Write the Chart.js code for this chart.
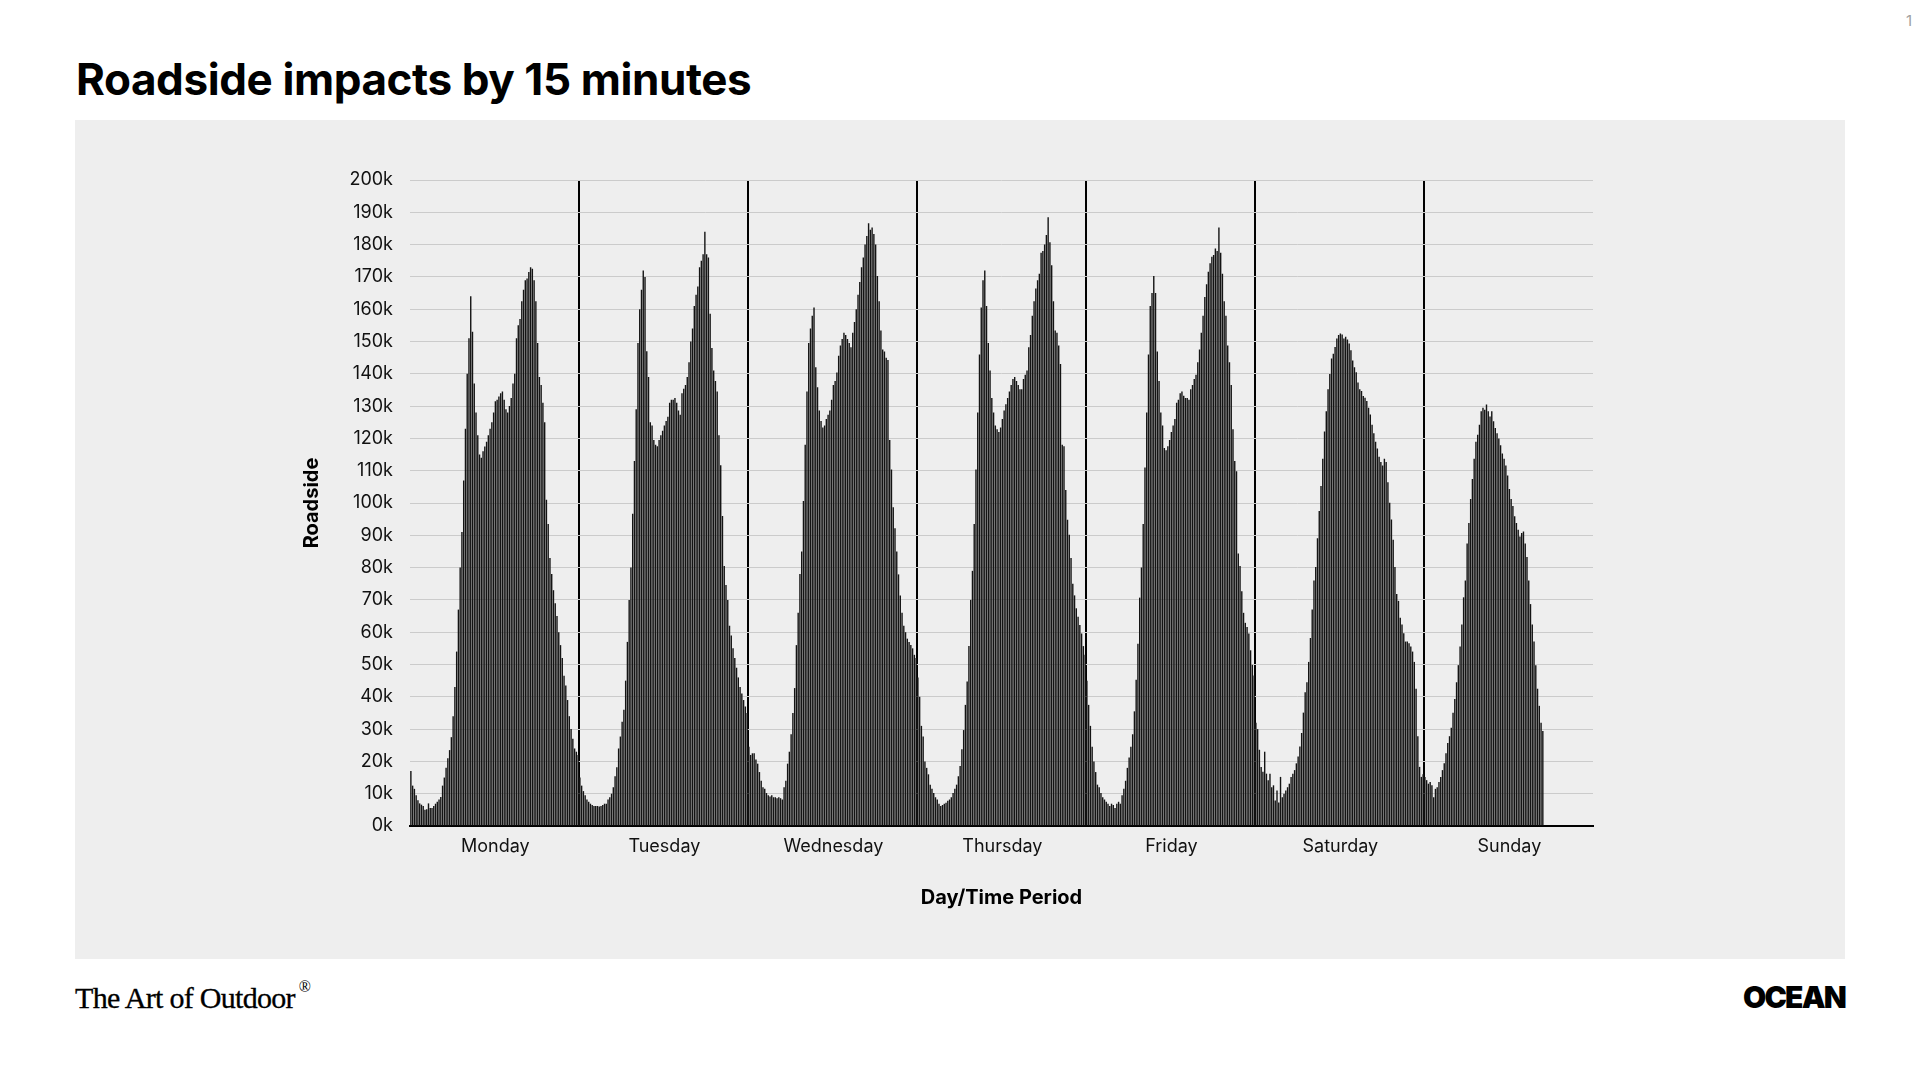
<!DOCTYPE html>
<html>
<head>
<meta charset="utf-8">
<script src="https://cdn.jsdelivr.net/npm/chart.js@4.4.1/dist/chart.umd.min.js"></script>
<style>
html,body{margin:0;padding:0;background:#fff;}
body{width:1920px;height:1080px;position:relative;overflow:hidden;font-family:Inter,"Noto Sans",sans-serif;}
#title{position:absolute;left:76px;top:57px;font-size:44px;line-height:44px;font-weight:700;letter-spacing:-0.4px;color:#000;margin:0;white-space:nowrap;}
#panel{position:absolute;left:75px;top:120px;width:1770px;height:839px;background:#eeeeee;}
#panel canvas{position:absolute;left:0;top:0;}
#brand{position:absolute;left:75px;top:977px;font-family:"Liberation Serif",serif;font-size:30px;line-height:30px;letter-spacing:-0.7px;color:#000;white-space:nowrap;-webkit-text-stroke:0.3px #000;}
#brand sup{font-size:16px;position:relative;top:-5px;margin-left:4px;-webkit-text-stroke:0;}
#ocean{position:absolute;right:75px;top:982px;font-size:30px;line-height:30px;font-weight:900;letter-spacing:-1.8px;color:#000;}
#page{position:absolute;right:8px;top:13px;font-size:15px;line-height:15px;color:#a0a0a0;}
</style>
</head>
<body>
<div id="page">1</div>
<h1 id="title">Roadside impacts by 15 minutes</h1>
<div id="panel"><canvas id="chart" width="1770" height="839"></canvas></div>
<div id="brand">The Art of Outdoor<sup>®</sup></div>
<div id="ocean">OCEAN</div>
<script>
const dayNames = ['Monday','Tuesday','Wednesday','Thursday','Friday','Saturday','Sunday'];

// Roadside impacts per 15-minute slot, in thousands
const monday = [17,12.5,11.5,9.5,8,7,6.6,6.2,5,5.2,7,5.6,5.6,6.2,6.9,7.5,8.2,9,12.5,15,18,21,23.5,27.5,34,43,54,67,80,91,107,123,140,151,164,153,137,128,121,115,114,116,117.5,119,121,123,125,128,131.5,132,133,134,134.5,132,129,128,130,132.5,137,140,151,155,157,162.5,166,169,169.5,171.5,173,172.5,169,162.5,149.5,139,136.5,131,125,101,93.5,83,78,73,69,65,60,56,52,46.5,43.5,39,34,30,27,24,23,22];
const tuesday = [15,12.5,10.8,9.5,8.2,7.5,6.9,6.5,6.2,6.2,6.2,6,6.2,6.5,6.9,6.9,8.2,8.9,10,12,15.4,18.2,24,27.7,32.3,36,45,57,70,80,96.7,113,129,149.5,160,166,172,170,147,139,125,124,119.5,118,117.6,119.5,121,122.4,124,125.4,126.7,131,132,132,132.5,131,128.6,127.3,134,135.4,136.5,139,143.6,150,154,161,164.5,167,173,175,177,184,177,176,158.6,148,141,137.8,134.5,121,111.7,96,80.5,74.6,70,62,59,55,52,49,46,43,41,39,37,35];
const wednesday = [24.5,22,22.5,22.5,20.6,19.3,16.7,14,12,11.5,10.2,9.5,9.1,9.5,8.9,8.9,8.6,8.9,8.6,8.2,12,14,19.3,23,28.4,35,42.7,56,66,78,85,100.6,118,134.5,149.5,154,158,160.5,142,135.8,128.6,125.4,123.4,124,126,127.3,128.6,132,136.5,137.8,140.4,145.6,148.8,150.8,152.7,152,150.8,149.5,148.2,152.7,156,160,164.5,168.4,173,176,180,182.7,186.6,184.6,185.3,183.3,180,170.3,162.5,153.4,147.5,146.9,145,144.3,119.5,110.4,98.7,92.2,85,77.9,71.4,66,62,60,58,57,56,55,53,52];
const thursday = [46,40,31,27.7,20,18,16,12.8,11.5,10.2,8.9,8.2,6.9,6.2,6.5,6.9,7.2,7.8,8.2,8.9,10.2,11.5,12.8,15.4,18.6,23.8,29.7,37.5,44.7,55.7,70,79,93.5,110.4,128,146,160.5,169,172,161,149.5,141,132.5,128,124,122.8,122,123.4,126,128.6,130.6,132.5,134.5,136.5,138.4,139,137.8,136.5,135.2,135.2,138.4,139.7,141,148.2,152,158,162.5,166.4,169,171,177.5,178,180,183,188.5,180.7,173.6,162.5,153.4,152.7,148.8,143,118,117.6,104,94.8,90.2,83,75,71.4,67.4,64.8,62.2,59.6,55.7,53];
const friday = [45,37.5,31,24.5,20,16.7,12.8,12,10.2,8.9,8.2,7.5,6.9,6.2,6.9,6.5,5.6,6.9,7.5,6.9,9.5,11.5,14,18,21.2,24.5,28.4,35.5,45.3,56.4,70.7,80,93.5,111,128,146,161,165,170.3,165,146.9,137.8,128,124,117,116.3,117.6,119.5,122,124,126,131,132,134,134.5,133.2,132.5,132.5,132,135.2,136.5,138.4,139.7,143.6,147.5,152.7,158,163.8,167.7,171.6,174.2,176.2,176.8,178.8,178,185.3,177.5,171,162.5,158,148.8,143.6,136.5,122.8,113,109.8,84.4,80.5,72.7,66,62.9,61.6,59.6,54.4,49.9,46.6];
const saturday = [32,30,23.6,18.3,16.8,23,16.2,14.2,16.2,12,12.6,7.9,11,7.3,15.2,8.9,10,11,12,13.1,15.2,16.2,17.3,19.4,21.5,24.6,28.8,35.1,41.4,44.5,50.8,58.2,67,76,80.2,89.1,97.5,105.3,113.7,122.1,128.4,135.2,139.9,144.7,146.2,148.3,150.9,152,152.5,152.2,150.9,151.5,150.6,149.4,147.3,144.1,142,140.5,137.3,135.2,134.7,133.1,132.6,131.6,129.5,127.4,124.2,121.6,119,116.9,114.3,112.7,111.6,113.7,112.7,106.4,100.1,94.9,88.6,80.2,71.8,69.7,64.5,62.4,59.7,57.1,57.1,56.6,55.6,54,50.8,42.5,27.8,18.3,15.2,16];
const sunday = [15.2,14.2,13.1,13.6,12.6,8.9,11.5,12,13.6,15.2,17.3,19.4,22.5,25.7,27.8,30.4,35.1,39.3,44.5,49.8,55.6,62.4,70.8,76,87.5,93.8,101.2,107.4,113.7,119,121.1,124.2,128.4,129.5,128.9,130.5,128.4,126.8,128.4,125.3,123.2,121.6,120,117.9,115.3,113.7,111.6,108.5,104.3,101.2,99.1,95.9,93.8,91.7,89.6,90.7,91.2,87.5,83.3,76,68.7,62.4,57.1,49.8,42.5,37.2,32,29.4];

const slotsPerDay = 96;
const yMin = 0, yMax = 200, yStep = 10;

const labels = [];
dayNames.forEach(function (d) {
  for (let q = 0; q < slotsPerDay; q++) {
    const h = String(Math.floor(q / 4)).padStart(2, '0');
    const m = String((q % 4) * 15).padStart(2, '0');
    labels.push(d + ' ' + h + ':' + m);
  }
});
const values = [].concat(monday, tuesday, wednesday, thursday, friday, saturday, sunday);

const ctx = document.getElementById('chart').getContext('2d');
new Chart(ctx, {
  type: 'bar',
  data: {
    labels: labels,
    datasets: [{
      label: 'Roadside',
      data: values,
      backgroundColor: '#141414',
      borderWidth: 0,
      barPercentage: 0.8,
      categoryPercentage: 1
    }]
  },
  options: {
    responsive: false,
    animation: false,
    devicePixelRatio: 1,
    layout: { padding: { left: 0, top: 60, right: 252, bottom: 0 } },
    plugins: { legend: { display: false }, tooltip: { enabled: false } },
    scales: {
      x: {
        grid: {
          offset: true,
          drawTicks: false,
          lineWidth: 2,
          color: function (c) { return (c.index > 0 && c.index % slotsPerDay === 0) ? '#000000' : 'rgba(0,0,0,0)'; }
        },
        border: { display: true, color: '#000000', width: 2 },
        ticks: {
          autoSkip: false, maxRotation: 0, minRotation: 0, padding: 10, color: '#111',
          font: { family: 'Inter', size: 18 },
          callback: function (v, i) { return i % slotsPerDay === slotsPerDay / 2 ? dayNames[Math.floor(i / slotsPerDay)] : ''; }
        },
        title: { display: true, text: 'Day/Time Period', color: '#000', font: { family: 'Inter', size: 20, weight: 'bold' }, padding: { top: 0, bottom: 49 } },
        afterFit: function (s) { s.height = 133; }
      },
      y: {
        min: yMin, max: yMax,
        ticks: {
          stepSize: yStep, padding: 17, color: '#111',
          font: { family: 'Inter', size: 18 },
          callback: function (v) { return v + 'k'; }
        },
        grid: { drawTicks: false, color: '#cbcbcb', lineWidth: 1 },
        border: { display: false },
        title: { display: true, text: 'Roadside', color: '#000', font: { family: 'Inter', size: 20, weight: 'bold' }, padding: { top: 225, bottom: 0 } },
        afterFit: function (s) { s.width = 335; }
      }
    }
  }
});
</script>
</body>
</html>
